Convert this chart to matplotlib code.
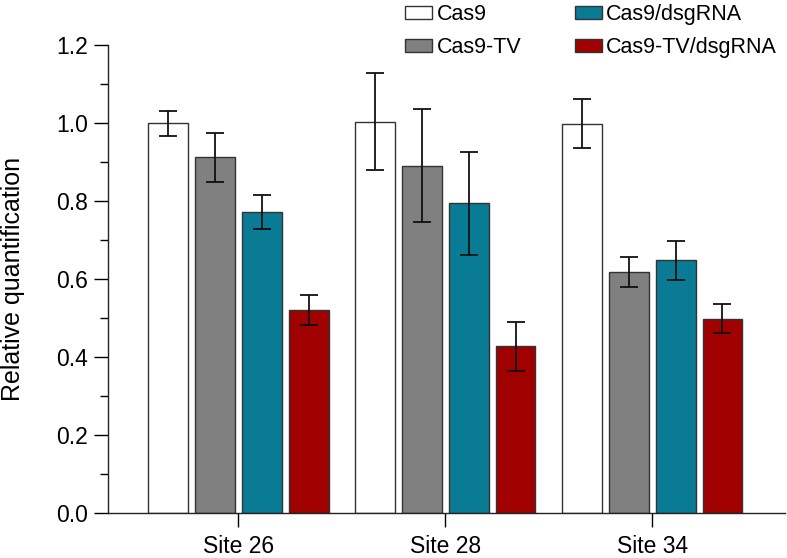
import matplotlib
matplotlib.use("Agg")
import matplotlib.pyplot as plt
import numpy as np
from matplotlib.ticker import MultipleLocator, FormatStrFormatter

# Datos
sites = ["Site 26", "Site 28", "Site 34"]
series = ["Cas9", "Cas9-TV", "Cas9/dsgRNA", "Cas9-TV/dsgRNA"]
colors = ["#ffffff", "#808080", "#0a7b95", "#a00000"]

cas9 = [1.000, 1.004, 0.999]
cas9_tv = [0.912, 0.890, 0.618]
cas9_dsg = [0.772, 0.794, 0.648]
cas9_tv_dsg = [0.521, 0.427, 0.498]

err_cas9 = [0.032, 0.125, 0.062]
err_cas9_tv = [0.063, 0.145, 0.039]
err_cas9_dsg = [0.044, 0.133, 0.050]
err_cas9_tv_dsg = [0.038, 0.063, 0.037]

values = [cas9, cas9_tv, cas9_dsg, cas9_tv_dsg]
errors = [err_cas9, err_cas9_tv, err_cas9_dsg, err_cas9_tv_dsg]

plt.rcParams['font.family'] = ['Liberation Sans', 'DejaVu Sans']

fig = plt.figure(figsize=(7.87, 5.58), dpi=100)
ax = fig.add_axes([0.137, 0.081, 0.860, 0.838])

x = np.arange(len(sites))
step = 0.2265
width = 0.193

for i in range(len(series)):
    pos = x + (i - 1.5) * step
    ax.bar(pos, values[i], width, color=colors[i], edgecolor="#333333",
           linewidth=1.0, label=series[i], zorder=2)
    ax.errorbar(pos, values[i], yerr=errors[i], fmt="none", ecolor="#111111",
                elinewidth=1.3, capsize=6.5, capthick=1.3, zorder=3)

ax.set_xlim(-0.63, 2.64)
ax.set_ylim(0, 1.2)
ax.set_xticks(x)
ax.set_xticklabels(sites)
ax.yaxis.set_major_locator(MultipleLocator(0.2))
ax.yaxis.set_minor_locator(MultipleLocator(0.1))
ax.yaxis.set_major_formatter(FormatStrFormatter("%.1f"))

for s in ["top", "right"]:
    ax.spines[s].set_visible(False)
for s in ["left", "bottom"]:
    ax.spines[s].set_linewidth(1.0)
    ax.spines[s].set_color("#222222")

ax.tick_params(axis="y", which="major", length=10, width=1.0, labelsize=16.5, pad=4)
ax.tick_params(axis="y", which="minor", length=6, width=1.0)
ax.tick_params(axis="x", which="major", length=10, width=1.0, labelsize=16.5, pad=6)
ax.set_ylabel("Relative quantification", fontsize=18, labelpad=6)
ax.yaxis.set_label_coords(-0.123, 0.5)

ax.legend(ncol=2, frameon=False, fontsize=15.5, loc="upper left",
          bbox_to_anchor=(0.504, 1.008), bbox_transform=fig.transFigure,
          handlelength=1.25, handleheight=0.55, handletextpad=0.2,
          columnspacing=2.5, labelspacing=0.55, borderaxespad=0)

fig.savefig("out.png", dpi=100)
